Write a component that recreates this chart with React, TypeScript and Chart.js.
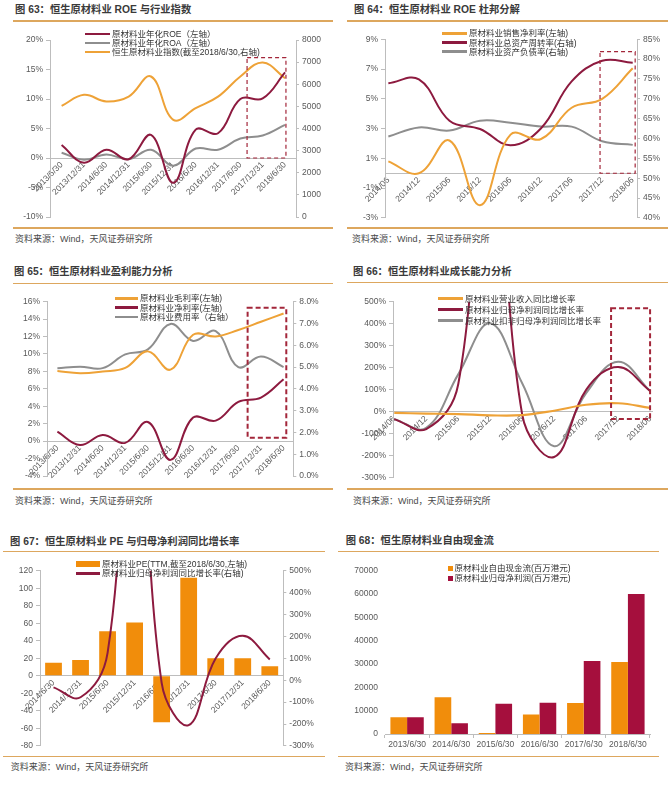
import React, { useEffect, useRef } from 'react';
import { Chart, registerables } from 'chart.js';

Chart.register(...registerables);

// ---------------- data ----------------
const halfYears = ['2013/6/30', '2013/12/31', '2014/6/30', '2014/12/31', '2015/6/30', '2015/12/31', '2016/6/30', '2016/12/31', '2017/6/30', '2017/12/31', '2018/6/30'];
const roe63 = [2.2, -0.8, 1.4, -0.2, 3.9, -4.2, 4.8, 4.2, 10.0, 10.1, 14.5];
const roa63 = [0.9, -0.3, 0.6, -0.2, 1.4, -1.3, 1.6, 1.4, 3.3, 3.8, 5.6];
const index63 = [5020, 5520, 5220, 5440, 6350, 4390, 4920, 5440, 6350, 6980, 6270];
const labels63 = ['原材料业年化ROE（左轴）', '原材料业年化ROA（左轴）', '恒生原材料业指数(截至2018/6/30,右轴)'];

const quarters = ['2014/06', '2014/12', '2015/06', '2015/12', '2016/06', '2016/12', '2017/06', '2017/12', '2018/06'];
const netMargin64 = [0.8, 0.0, 2.2, -2.15, 2.6, 2.3, 4.4, 5.0, 7.05];
const turnover64 = [73.9, 74.9, 64.5, 62.4, 58.3, 62.6, 74.4, 79.6, 79.1];
const debt64 = [60.5, 62.8, 62.0, 64.5, 64.0, 63.0, 63.0, 59.3, 58.4];
const labels64 = ['原材料业销售净利率(左轴)', '原材料业总资产周转率(右轴)', '原材料业资产负债率(右轴)'];

const gross65 = [8.05, 7.8, 8.0, 8.4, 10.3, 8.2, 12.2, 12.0, 12.75, 13.7, 14.65];
const net65 = [1.1, -0.45, 0.7, -0.2, 2.2, -2.15, 2.7, 2.35, 4.5, 5.0, 7.1];
const expense65 = [4.95, 5.02, 4.95, 5.58, 5.81, 6.98, 6.2, 6.65, 5.0, 5.48, 5.0];
const labels65 = ['原材料业毛利率(左轴)', '原材料业净利率(左轴)', '原材料业费用率（右轴）'];

const revGrowth66 = [-5, -8, -10, -16, -15, 5, 32, 39, 18];
const npGrowth = [-33, -78, 125, 1500, -12, -205, 100, 203, 95];
const deductGrowth66 = [-33, -73, 170, 402, 130, -156, 85, 227, 95];
const labels66 = ['原材料业营业收入同比增长率', '原材料业归母净利润同比增长率', '原材料业扣非归母净利润同比增长率'];

const dates67 = ['2014/6/30', '2014/12/31', '2015/6/30', '2015/12/31', '2016/6/30', '2016/12/31', '2017/6/30', '2017/12/31', '2018/6/30'];
const pe67 = [15, 18, 51, 61, -53, 112, 20, 20, 11];
const labels67 = ['原材料业PE(TTM,截至2018/6/30,左轴)', '原材料业归母净利润同比增长率(右轴)'];

const years68 = ['2013/6/30', '2014/6/30', '2015/6/30', '2016/6/30', '2017/6/30', '2018/6/30'];
const fcf68 = [7200, 15700, 400, 8400, 13300, 30900];
const np68 = [7200, 4600, 13000, 13400, 31300, 60000];
const labels68 = ['原材料业自由现金流(百万港元)', '原材料业归母净利润(百万港元)'];

const titles = [
  '图 63：恒生原材料业 ROE 与行业指数',
  '图 64：恒生原材料业 ROE 杜邦分解',
  '图 65：恒生原材料业盈利能力分析',
  '图 66：恒生原材料业成长能力分析',
  '图 67：恒生原材料业 PE 与归母净利润同比增长率',
  '图 68：恒生原材料业自由现金流',
];
const sourceText = '资料来源：Wind，天风证券研究所';

// ---------------- styles ----------------
const LAT = '"Liberation Sans", "Noto Sans CJK SC", sans-serif';
const ORANGE_LINE = '#EEA237';
const RED_LINE = '#8D1A3F';
const GRAY_LINE = '#8E8E8E';
const ORANGE_BAR = '#F18D0B';
const RED_BAR = '#A50F3D';
const AXIS = '#BDBDBD';
const TICK = '#595959';
const GOLD = '#DDA75E';
const BOXC = '#A3263A';
const tickFont = { family: LAT, size: 8.5 };

type Box = { x: number; y: number; w: number; h: number };
type Area = { l: number; r: number; t: number; b: number };

function padFor(box: Box, area: Area, lw: number, rw: number, bh = 0) {
  return {
    left: area.l - box.x - lw,
    right: box.x + box.w - area.r - rw,
    top: area.t - box.y,
    bottom: box.y + box.h - area.b - bh,
  };
}

function yAxis(position: 'left' | 'right', min: number, max: number, step: number, fmt: (v: number) => string, width: number) {
  const right = position === 'right';
  return {
    type: 'linear',
    position,
    min,
    max,
    ticks: { stepSize: step, autoSkip: false, callback: (v: any) => fmt(Number(v)), color: TICK, font: tickFont, padding: 3 },
    grid: { drawOnChartArea: false, drawTicks: true, tickLength: right ? 3 : 4, color: AXIS },
    border: { display: true, color: AXIS },
    afterFit: (s: any) => { s.width = width; },
  };
}

function indexXAxis(labels: string[], min: number, max: number, posAxis: string) {
  return {
    type: 'linear',
    min,
    max,
    position: { [posAxis]: 0 },
    afterBuildTicks: (s: any) => { s.ticks = labels.map((_, i) => ({ value: i })); },
    ticks: {
      autoSkip: false, minRotation: 45, maxRotation: 45, color: TICK, font: tickFont, padding: 2,
      callback: (v: any) => labels[Math.round(Number(v))] ?? '',
    },
    grid: { display: false, drawTicks: false },
    border: { display: true, color: AXIS },
  };
}

function lineDs(label: string, values: number[], color: string, yAxisID: string, width = 2) {
  return {
    type: 'line',
    label,
    data: values.map((v, i) => ({ x: i, y: v })),
    borderColor: color,
    backgroundColor: color,
    borderWidth: width,
    pointRadius: 0,
    tension: 0.4,
    capBezierPoints: false,
    fill: false,
    yAxisID,
    xAxisID: 'x',
  };
}

function dashBox(xr: number[], yId: string, yr: number[], width: number, dash: number[]) {
  return {
    id: 'dashBox',
    afterDatasetsDraw(chart: any) {
      const xs = chart.scales.x;
      const ys = chart.scales[yId];
      const ctx = chart.ctx;
      const L = xs.getPixelForValue(xr[0]);
      const R = xs.getPixelForValue(xr[1]);
      const T = ys.getPixelForValue(yr[1]);
      const B = ys.getPixelForValue(yr[0]);
      ctx.save();
      ctx.strokeStyle = BOXC;
      ctx.lineWidth = width;
      ctx.setLineDash(dash);
      ctx.strokeRect(L, T, R - L, B - T);
      ctx.restore();
    },
  };
}

function baseOptions(padding: any, scales: any) {
  return {
    animation: false,
    responsive: true,
    maintainAspectRatio: false,
    events: [],
    layout: { padding },
    plugins: { legend: { display: false }, tooltip: { enabled: false } },
    scales,
  };
}

const pct0 = (v: number) => `${v}%`;

// highlight boxes (index units on x, value units on y)
const hl63 = { x: [8.3, 10.04], y: [0, 17] };
const hl64 = { x: [6.93, 8.08], y: [0, 8.17] };
const hl65 = { x: [8.41, 10.12], y: [0.4, 15.3] };
const hl66 = { x: [6.78, 8.0], y: [-33, 470] };

// ---------------- chart configs ----------------
const box63: Box = { x: 0, y: 26, w: 335, h: 200 };
const area63: Area = { l: 50, r: 296, t: 40, b: 217 };
function make63() {
  return {
    type: 'line',
    data: {
      datasets: [
        lineDs(labels63[0], roe63, RED_LINE, 'y'),
        lineDs(labels63[1], roa63, GRAY_LINE, 'y'),
        lineDs(labels63[2], index63, ORANGE_LINE, 'y1'),
      ],
    },
    options: baseOptions(padFor(box63, area63, 30, 36), {
      x: indexXAxis(halfYears, -0.52, 10.49, 'y'),
      y: yAxis('left', -10, 20, 5, pct0, 30),
      y1: yAxis('right', 0, 8000, 1000, (v) => String(v), 36),
    }),
    plugins: [dashBox(hl63.x, 'y', hl63.y, 1.2, [4, 3])],
  };
}

const box64: Box = { x: 335, y: 26, w: 335, h: 200 };
const area64: Area = { l: 385, r: 637, t: 39.3, b: 218 };
function make64() {
  return {
    type: 'line',
    data: {
      datasets: [
        lineDs(labels64[0], netMargin64, ORANGE_LINE, 'y'),
        lineDs(labels64[1], turnover64, RED_LINE, 'y1'),
        lineDs(labels64[2], debt64, GRAY_LINE, 'y1'),
      ],
    },
    options: baseOptions(padFor(box64, area64, 30, 30), {
      x: indexXAxis(quarters, -0.11, 8.14, 'y'),
      y: yAxis('left', -3, 9, 2, pct0, 30),
      y1: yAxis('right', 40, 85, 5, pct0, 30),
    }),
    plugins: [dashBox(hl64.x, 'y', hl64.y, 1.2, [4, 3])],
  };
}

const box65: Box = { x: 0, y: 288, w: 335, h: 198 };
const area65: Area = { l: 47, r: 293.3, t: 301.7, b: 476 };
function make65() {
  return {
    type: 'line',
    data: {
      datasets: [
        lineDs(labels65[0], gross65, ORANGE_LINE, 'y'),
        lineDs(labels65[1], net65, RED_LINE, 'y'),
        lineDs(labels65[2], expense65, GRAY_LINE, 'y1'),
      ],
    },
    options: baseOptions(padFor(box65, area65, 30, 36), {
      x: indexXAxis(halfYears, -0.46, 10.43, 'y'),
      y: yAxis('left', -4, 16, 2, pct0, 30),
      y1: yAxis('right', 0, 8, 1, (v) => `${v.toFixed(1)}%`, 36),
    }),
    plugins: [dashBox(hl65.x, 'y', hl65.y, 2, [5, 3])],
  };
}

const box66: Box = { x: 335, y: 288, w: 335, h: 198 };
const area66: Area = { l: 393, r: 652, t: 301.7, b: 479.3 };
function make66() {
  return {
    type: 'line',
    data: {
      datasets: [
        lineDs(labels66[0], revGrowth66, ORANGE_LINE, 'y', 2.2),
        lineDs(labels66[1], npGrowth, RED_LINE, 'y'),
        lineDs(labels66[2], deductGrowth66, GRAY_LINE, 'y'),
      ],
    },
    options: baseOptions(padFor(box66, area66, 36, 0), {
      x: indexXAxis(quarters, -0.04, 8.06, 'y'),
      y: yAxis('left', -300, 500, 100, pct0, 36),
    }),
    plugins: [dashBox(hl66.x, 'y', hl66.y, 2, [5, 3])],
  };
}

const box67: Box = { x: 0, y: 556, w: 335, h: 198 };
const area67: Area = { l: 40, r: 283.3, t: 570.7, b: 746 };
function make67() {
  return {
    type: 'bar',
    data: {
      labels: dates67,
      datasets: [
        {
          type: 'line', label: labels67[1], data: npGrowth, borderColor: RED_LINE, backgroundColor: RED_LINE,
          borderWidth: 2, pointRadius: 0, tension: 0.4, capBezierPoints: false, fill: false, yAxisID: 'y1', order: 0,
        },
        {
          type: 'bar', label: labels67[0], data: pe67, backgroundColor: ORANGE_BAR, borderWidth: 0,
          barPercentage: 0.62, categoryPercentage: 1, yAxisID: 'y', order: 1,
        },
      ],
    },
    options: baseOptions(padFor(box67, area67, 26, 36), {
      x: {
        type: 'category',
        offset: true,
        position: { y: 0 },
        ticks: { autoSkip: false, minRotation: 45, maxRotation: 45, color: TICK, font: tickFont, padding: 2 },
        grid: { display: false, drawTicks: false },
        border: { display: true, color: AXIS },
      },
      y: yAxis('left', -80, 120, 20, (v) => String(v), 26),
      y1: yAxis('right', -300, 500, 100, pct0, 36),
    }),
  };
}

const box68: Box = { x: 335, y: 556, w: 335, h: 198 };
const area68: Area = { l: 385, r: 650, t: 570.7, b: 734 };
function make68() {
  return {
    type: 'bar',
    data: {
      labels: years68,
      datasets: [
        { label: labels68[0], data: fcf68, backgroundColor: ORANGE_BAR, borderWidth: 0, categoryPercentage: 0.755, barPercentage: 1 },
        { label: labels68[1], data: np68, backgroundColor: RED_BAR, borderWidth: 0, categoryPercentage: 0.755, barPercentage: 1 },
      ],
    },
    options: baseOptions(padFor(box68, area68, 40, 0, 18), {
      x: {
        type: 'category',
        offset: true,
        ticks: { autoSkip: false, maxRotation: 0, minRotation: 0, color: TICK, font: tickFont, padding: 2 },
        grid: { offset: true, drawOnChartArea: false, drawTicks: true, tickLength: 4, color: AXIS },
        border: { display: true, color: AXIS },
        afterFit: (s: any) => { s.height = 18; },
      },
      y: {
        type: 'linear',
        min: 0,
        max: 70000,
        ticks: { stepSize: 10000, color: TICK, font: tickFont, padding: 7, callback: (v: any) => String(v) },
        grid: { display: false, drawTicks: false },
        border: { display: false },
        afterFit: (s: any) => { s.width = 40; },
      },
    }),
  };
}

// ---------------- components ----------------
function ChartBox({ box, make }: { box: Box; make: () => any }) {
  const ref = useRef<HTMLCanvasElement | null>(null);
  useEffect(() => {
    const chart = new Chart(ref.current as HTMLCanvasElement, make());
    return () => chart.destroy();
  }, []);
  return (
    <div style={{ position: 'absolute', left: box.x, top: box.y, width: box.w, height: box.h }}>
      <canvas ref={ref} />
    </div>
  );
}

function Text({ x, cy, text, size, weight = 400, color = '#333' }: any) {
  return (
    <div
      style={{
        position: 'absolute', left: x, top: cy - 8, height: 16, lineHeight: '16px', fontSize: size,
        fontWeight: weight, color, fontFamily: LAT, whiteSpace: 'nowrap',
      }}
    >
      {text}
    </div>
  );
}

function HLine({ x1, x2, y, color = GOLD, w = 1.5 }: any) {
  return <div style={{ position: 'absolute', left: x1, top: y - w / 2, width: x2 - x1, height: w, background: color }} />;
}

function LineKey({ x1, x2, cy, color, text, lw = 2.5 }: any) {
  return (
    <>
      <div style={{ position: 'absolute', left: x1, top: cy - lw / 2, width: x2 - x1, height: lw, background: color }} />
      <Text x={x2 + 2} cy={cy} text={text} size={8.5} color="#333" />
    </>
  );
}

function RectKey({ x1, x2, cy, h, color, text }: any) {
  return (
    <>
      <div style={{ position: 'absolute', left: x1, top: cy - h / 2, width: x2 - x1, height: h, background: color }} />
      <Text x={x2 + 2} cy={cy} text={text} size={8.5} color="#333" />
    </>
  );
}

function Frame({ tx, ty, lx1, lx2, topY, botY, sx, sy, title }: any) {
  return (
    <>
      <Text x={tx} cy={ty} text={title} size={10.3} weight={700} color="#3a3a3a" />
      <HLine x1={lx1} x2={lx2} y={topY} />
      <HLine x1={lx1} x2={lx2} y={botY} />
      <Text x={sx} cy={sy} text={sourceText} size={9} color="#4a4a4a" />
    </>
  );
}

export default function App() {
  return (
    <div style={{ position: 'absolute', left: 0, top: 0, width: 670, height: 785, background: '#fff', overflow: 'hidden' }}>
      {/* 63 */}
      <Frame tx={15} ty={10} lx1={13} lx2={333} topY={21} botY={228} sx={15} sy={239} title={titles[0]} />
      <ChartBox box={box63} make={make63} />
      <LineKey x1={85} x2={110} cy={34} color={RED_LINE} text={labels63[0]} />
      <LineKey x1={85} x2={110} cy={43} color={GRAY_LINE} text={labels63[1]} />
      <LineKey x1={85} x2={110} cy={52} color={ORANGE_LINE} text={labels63[2]} />

      {/* 64 */}
      <Frame tx={354} ty={10} lx1={347} lx2={668} topY={21} botY={228} sx={352} sy={238.5} title={titles[1]} />
      <ChartBox box={box64} make={make64} />
      <LineKey x1={442} x2={467} cy={33.3} color={ORANGE_LINE} text={labels64[0]} />
      <LineKey x1={442} x2={467} cy={42.7} color={RED_LINE} text={labels64[1]} />
      <LineKey x1={442} x2={467} cy={51.7} color={GRAY_LINE} text={labels64[2]} />

      {/* 65 */}
      <Frame tx={14} ty={271.7} lx1={13} lx2={333} topY={283.3} botY={489} sx={15} sy={501} title={titles[2]} />
      <ChartBox box={box65} make={make65} />
      <LineKey x1={115} x2={138} cy={298.3} color={ORANGE_LINE} text={labels65[0]} />
      <LineKey x1={115} x2={138} cy={307.7} color={RED_LINE} text={labels65[1]} />
      <LineKey x1={115} x2={138} cy={317} color={GRAY_LINE} text={labels65[2]} />

      {/* 66 */}
      <Frame tx={353} ty={271.7} lx1={347} lx2={668} topY={282.5} botY={489} sx={353} sy={501} title={titles[3]} />
      <ChartBox box={box66} make={make66} />
      <LineKey x1={438} x2={463} cy={298.5} color={ORANGE_LINE} text={labels66[0]} lw={3} />
      <LineKey x1={438} x2={463} cy={309.5} color={RED_LINE} text={labels66[1]} />
      <LineKey x1={438} x2={463} cy={320.5} color={GRAY_LINE} text={labels66[2]} />

      {/* 67 */}
      <Frame tx={10} ty={541.7} lx1={3} lx2={325} topY={551.7} botY={756.7} sx={10.7} sy={767.3} title={titles[4]} />
      <ChartBox box={box67} make={make67} />
      <RectKey x1={76} x2={100} cy={563.7} h={6} color={ORANGE_BAR} text={labels67[0]} />
      <LineKey x1={76} x2={100} cy={573.3} color={RED_LINE} text={labels67[1]} />

      {/* 68 */}
      <Frame tx={345.7} ty={540.7} lx1={338} lx2={659} topY={551.7} botY={756.7} sx={345} sy={767.3} title={titles[5]} />
      <ChartBox box={box68} make={make68} />
      <RectKey x1={448} x2={452.5} cy={568.3} h={4.5} color={ORANGE_BAR} text={labels68[0]} />
      <RectKey x1={448} x2={452.5} cy={578.3} h={4.5} color={RED_BAR} text={labels68[1]} />
    </div>
  );
}
